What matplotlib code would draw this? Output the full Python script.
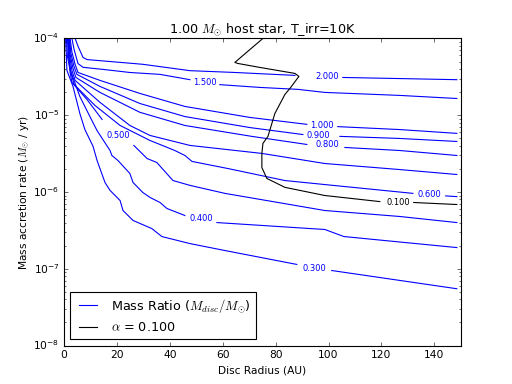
import numpy as np
import matplotlib
matplotlib.use('Agg')
import matplotlib.pyplot as plt

plt.style.use('classic')
plt.rcParams['font.size'] = 9.6
plt.rcParams['figure.facecolor'] = 'white'
plt.rcParams['savefig.facecolor'] = 'white'

# disc radius (AU) and accretion rate (Msun/yr) along each mass-ratio contour
r_200 = [4.2, 5.3, 7.2, 8.7, 17.4, 29.8, 47.6, 64.6, 87.3, 105.4, 126.9, 148.5]
m_200 = [1.0e-4, 7.9e-5, 5.65e-5, 5.3e-5, 5.0e-5, 4.6e-5, 3.8e-5, 3.6e-5, 3.3e-5, 3.1e-5, 3.0e-5, 2.9e-5]

r_150 = [3.0, 3.8, 5.3, 7.2, 14.7, 24.9, 36.3, 47.6, 58.9, 74.0, 88.4, 98.6, 126.9, 148.5]
m_150 = [1.0e-4, 7.2e-5, 4.7e-5, 4.2e-5, 3.95e-5, 3.6e-5, 3.4e-5, 2.9e-5, 2.5e-5, 2.3e-5, 2.17e-5, 1.98e-5, 1.81e-5, 1.65e-5]

r_100 = [2.3, 3.0, 4.2, 5.3, 13.6, 28.7, 45.7, 70.3, 91.8, 103.5, 126.9, 148.5]
m_100 = [1.0e-4, 6.6e-5, 4.6e-5, 3.6e-5, 2.84e-5, 1.92e-5, 1.30e-5, 9.35e-6, 7.6e-6, 7.1e-6, 6.5e-6, 5.8e-6]

r_090 = [2.1, 2.6, 3.8, 4.9, 13.6, 28.7, 45.7, 70.3, 90.3, 104.3, 126.9, 148.5]
m_090 = [1.0e-4, 6.4e-5, 4.3e-5, 3.4e-5, 2.37e-5, 1.42e-5, 9.6e-6, 6.9e-6, 5.6e-6, 5.3e-6, 4.98e-6, 4.55e-6]

r_080 = [1.9, 2.3, 3.4, 4.5, 13.6, 28.7, 45.7, 71.0, 91.8, 106.2, 126.9, 148.5]
m_080 = [1.0e-4, 6.2e-5, 4.07e-5, 3.1e-5, 1.98e-5, 1.09e-5, 7.35e-6, 5.3e-6, 4.16e-6, 3.8e-6, 3.47e-6, 2.99e-6]

r_070 = [1.7, 2.1, 3.0, 4.2, 13.6, 24.9, 32.5, 47.6, 74.8, 98.6, 126.9, 148.5]
m_070 = [1.0e-4, 6.0e-5, 3.83e-5, 2.84e-5, 1.47e-5, 7.35e-6, 5.45e-6, 4.04e-6, 3.18e-6, 2.35e-6, 1.96e-6, 1.69e-6]

r_060 = [1.5, 1.9, 2.6, 3.8, 11.7, 21.2, 32.5, 41.9, 45.7, 48.4, 62.0, 83.5, 98.6, 131.9, 144.3, 148.5]
m_060 = [1.0e-4, 5.8e-5, 3.6e-5, 2.52e-5, 1.34e-5, 7.35e-6, 4.69e-6, 3.47e-6, 2.99e-6, 2.5e-6, 2.02e-6, 1.41e-6, 1.25e-6, 9.6e-7, 8.9e-7, 8.7e-7]

r_050 = [1.3, 1.7, 2.3, 3.0, 8.7, 14.4, 26.4, 31.4, 35.1, 41.2, 47.6, 60.8, 98.6, 126.9, 148.5]
m_050 = [1.0e-4, 5.8e-5, 3.6e-5, 2.67e-5, 1.6e-5, 8.8e-6, 4.04e-6, 2.73e-6, 2.42e-6, 1.41e-6, 1.22e-6, 9.6e-7, 5.74e-7, 4.8e-7, 4.0e-7]

r_040 = [0.9, 1.3, 2.3, 6.0, 9.8, 12.5, 17.4, 18.1, 20.4, 24.9, 26.1, 29.8, 32.5, 36.3, 38.9, 45.7, 57.8, 98.6, 105.8, 148.5]
m_040 = [1.0e-4, 5.8e-5, 3.95e-5, 1.75e-5, 9.6e-6, 6.3e-6, 3.47e-6, 2.99e-6, 2.57e-6, 1.74e-6, 1.33e-6, 9.85e-7, 8.5e-7, 7.3e-7, 6.1e-7, 4.94e-7, 4.0e-7, 3.25e-7, 2.63e-7, 1.89e-7]

r_030 = [0.6, 0.9, 1.1, 3.4, 6.0, 7.9, 11.0, 12.5, 15.5, 17.4, 21.2, 22.3, 26.1, 33.2, 37.0, 47.6, 60.8, 88.0, 101.2, 148.5]
m_030 = [1.0e-4, 5.8e-5, 3.83e-5, 2.37e-5, 1.05e-5, 6.5e-6, 3.92e-6, 2.57e-6, 1.33e-6, 1.05e-6, 7.75e-7, 5.74e-7, 4.26e-7, 3.34e-7, 2.63e-7, 2.13e-7, 1.73e-7, 1.14e-7, 9.5e-8, 5.5e-8]

# alpha = 0.1 contour
r_alpha = [75.2, 69.9, 64.6, 65.7, 74.0, 87.3, 88.8, 85.4, 83.5, 79.7, 77.1, 75.2, 74.8, 74.8, 76.7, 83.5, 98.6, 119.4, 132.2, 148.5]
m_alpha = [1.0e-4, 6.98e-5, 4.87e-5, 4.72e-5, 4.19e-5, 3.5e-5, 3.2e-5, 2.23e-5, 1.86e-5, 1.05e-5, 5.3e-6, 4.29e-6, 3.18e-6, 2.08e-6, 1.5e-6, 1.15e-6, 9.0e-7, 7.5e-7, 7.3e-7, 6.87e-7]

# contour labels: text, gap index in line, label position
contours = [
    (r_200, m_200, '2.000', 9, (99.4, 3.2e-5)),
    (r_150, m_150, '1.500', 8, (53.3, 2.67e-5)),
    (r_100, m_100, '1.000', 9, (97.5, 7.35e-6)),
    (r_090, m_090, '0.900', 9, (96.0, 5.45e-6)),
    (r_080, m_080, '0.800', 9, (99.7, 4.1e-6)),
    (r_070, m_070, None, None, None),
    (r_060, m_060, '0.600', 14, (138.3, 9.3e-7)),
    (r_050, m_050, '0.500', 6, (20.4, 5.4e-6)),
    (r_040, m_040, '0.400', 16, (51.8, 4.5e-7)),
    (r_030, m_030, '0.300', 18, (94.8, 1.0e-7)),
]

fig = plt.figure(figsize=(6.4, 4.8), dpi=80)
ax = fig.add_subplot(111)

def draw(r, m, text, gap, pos, color, lab=None):
    if gap is None:
        ax.plot(r, m, '-', color=color, lw=1, label=lab)
        return
    ax.plot(r[:gap], m[:gap], '-', color=color, lw=1, label=lab)
    ax.plot(r[gap:], m[gap:], '-', color=color, lw=1)
    ax.text(pos[0], pos[1], text, color=color, fontsize=7.5,
            ha='center', va='center')

for i, (r, m, text, gap, pos) in enumerate(contours):
    lab = r'Mass Ratio ($M_{disc}/M_{\odot}$)' if i == 0 else None
    draw(r, m, text, gap, pos, 'b', lab)

draw(r_alpha, m_alpha, '0.100', 18, (126.4, 7.4e-7), 'k', r'$\alpha$ = 0.100')

ax.set_yscale('log')
ax.set_xlim(0, 150)
ax.set_ylim(1e-8, 1e-4)
ax.set_xlabel('Disc Radius (AU)')
ax.set_ylabel(r'Mass accretion rate ($M_{\odot}$ / yr)', labelpad=1)
ax.set_title(r'1.00 $M_{\odot}$ host star, T_irr=10K')
ax.legend(loc='lower left')

plt.savefig('out.png', dpi=80)
